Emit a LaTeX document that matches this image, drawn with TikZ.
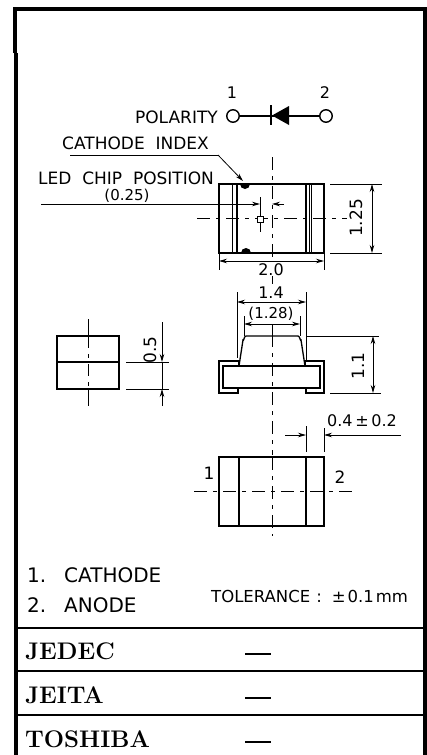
\documentclass[tikz,border=0pt]{standalone}
\usepackage{fontspec}
\setmainfont{Latin Modern Roman}
\setsansfont{DejaVu Sans}
\usetikzlibrary{arrows.meta}
\tikzset{
 obj/.style={line width=1.3pt},
 thin line/.style={line width=0.8pt},
 dim/.style={line width=0.8pt,{Stealth[length=8pt,width=4.5pt]}-{Stealth[length=8pt,width=4.5pt]}},
 tipend/.style={line width=0.8pt,-{Stealth[length=8pt,width=4.5pt]}},
 center line/.style={line width=1pt,dash pattern=on 13pt off 6pt on 4pt off 6pt},
 frame line/.style={line width=2pt},
 lab/.style={font=\sffamily\fontsize{17}{17}\selectfont,inner sep=0pt},
 mid lab/.style={font=\sffamily\fontsize{16}{16}\selectfont,inner sep=0pt},
 small lab/.style={font=\sffamily\fontsize{15}{15}\selectfont,inner sep=0pt},
 tol lab/.style={font=\sffamily\fontsize{16.5}{16}\selectfont,inner sep=0pt},
 big lab/.style={font=\sffamily\fontsize{20}{20}\selectfont,inner sep=0pt},
 std lab/.style={font=\rmfamily\bfseries\fontsize{24}{24}\selectfont,inner sep=0pt,anchor=base west},
 term/.style={circle,draw,line width=1.4pt,minimum size=12.5pt,inner sep=0pt}
}
\begin{document}
\begin{tikzpicture}[x=1pt,y=-1pt]
\useasboundingbox (0,0) rectangle (427,755);
% frame
\draw[line width=4pt] (15,53) -- (15,9) -- (425,9) -- (425,755);
\draw[line width=4pt] (16,53) -- (16,755);
\draw[frame line] (16,628) -- (425,628);
\draw[frame line] (16,670.5) -- (425,670.5);
\draw[frame line] (16,714.5) -- (425,714.5);
% standards
\node[std lab] (jedec) at (25,659) {JEDEC};
\node[std lab] (jeita) at (25,703) {JEITA};
\node[std lab] (toshiba) at (25,747) {TOSHIBA};
\draw[line width=2pt] (245,654) -- (271,654);
\draw[line width=2pt] (245,698) -- (271,698);
\draw[line width=2pt] (245,742) -- (271,742);
% notes
\node[big lab,anchor=base west] (n1) at (27,582) {1.};
\node[big lab,anchor=base west] (n1b) at (64,582) {CATHODE};
\node[big lab,anchor=base west] (n2) at (27,612) {2.};
\node[big lab,anchor=base west] (n2b) at (64,612) {ANODE};
\node[tol lab,anchor=base west] (tol) at (211,602) {TOLERANCE\hspace{6pt}:\hspace{10pt}±\hspace{2pt}0.1\hspace{2pt}mm};
% polarity
\node[lab,anchor=base east] (pol) at (218,123) {POLARITY};
\node[term] (t1) at (233,116) {};
\node[term] (t2) at (326,116) {};
\node[mid lab] (l1) at (232,93) {1};
\node[mid lab] (l2) at (325,93) {2};
\draw[line width=1.1pt] (t1) -- (t2);
\fill (289,106) -- (289,125) -- (272,115.5) -- cycle;
\draw[line width=2.6pt] (271,105) -- (271,125);
% cathode index
\node[lab,anchor=base west] (ci) at (62,149) {CATHODE\ \ INDEX};
\coordinate (ciE) at (218,155);
\coordinate (ciS) at (70,155);
\draw[thin line] (ciS) -- (ciE);
\draw[tipend] (ciE) -- (243,181);
\node[lab,anchor=base west] (chip) at (38,184) {LED\ \ CHIP\ \ POSITION};
\node[small lab,anchor=base] (p25) at (127,200) {(0.25)};
% top view
\draw[obj] (219,184) rectangle (324,253);
\draw[line width=.9pt] (232,184) -- (232,253);
\draw[line width=1.1pt] (237,184) -- (237,253);
\draw[line width=1.3pt] (306,184) -- (306,253);
\draw[line width=.8pt] (309,184) -- (309,253);
\draw[line width=.8pt] (311,184) -- (311,253);
\fill (240,184) arc[start angle=180,end angle=360,radius=5pt] -- cycle;
\fill (241,253) arc[start angle=180,end angle=0,radius=5pt] -- cycle;
\draw[center line] (272,157) -- (272,275);
\draw[center line] (197,218.5) -- (347,218.5);
\draw[line width=.9pt] (260,197) -- (260,232);
\draw[fill=white,line width=1pt] (257,216) rectangle (263,222);
\coordinate (leftF) at (41,204);
\draw[thin line] (leftF) -- (249,204);
\draw[tipend] (249,204) -- (260,204);
\draw[tipend] (284,204) -- (272,204);
% 1.25
\draw[thin line] (330,184) -- (382,184);
\draw[thin line] (330,253) -- (382,253);
\draw[dim] (372,184) -- (372,253);
\node[lab,rotate=90] (d125) at (356,218) {1.25};
% 2.0
\draw[thin line] (219,253) -- (219,270);
\draw[thin line] (324,253) -- (324,270);
\draw[dim] (219,261) -- (324,261);
\node[mid lab,fill=white,inner sep=1pt] (d20) at (271,270) {2.0};
% side view left
\draw[obj] (57,336) rectangle (119,389);
\draw[obj] (57,362) -- (119,362);
\draw[line width=.9pt] (88,319) -- (88,336);
\draw[line width=.9pt] (88,389) -- (88,406);
\draw[line width=.9pt,dash pattern=on 12pt off 6pt on 4pt off 6pt] (88,336) -- (88,389);
\draw[thin line] (126,362) -- (169,362);
\draw[thin line] (126,389) -- (169,389);
\draw[tipend] (162,322) -- (162,362);
\draw[tipend] (162,406) -- (162,389);
\draw[thin line] (162,362) -- (162,389);
\node[lab,rotate=90] (d05) at (150,350) {0.5};
% front view
\draw[obj] (219,361) -- (239,361) -- (239,366) -- (305,366) -- (305,361) -- (324,361) -- (324,393) -- (306,393) -- (306,388) -- (238,388) -- (238,393) -- (219,393) -- cycle;
\draw[obj] (223,366) rectangle (320,388);
\draw[obj] (239,366) -- (243,340) to[out=-70,in=180] (246,336) -- (298,336) to[out=0,in=-110] (301,340) -- (305,366);
\draw[center line] (272,334) -- (272,455);
% 1.4
\draw[thin line] (237,292) -- (237,358);
\draw[thin line] (306,292) -- (306,360);
\draw[dim] (237,302) -- (306,302);
\draw[line width=.9pt] (272,276) -- (272,284);
\node[mid lab] (d14) at (271,293) {1.4};
% 1.28
\draw[thin line] (244,316) -- (244,336);
\draw[thin line] (300,316) -- (300,336);
\draw[dim] (244,324) -- (300,324);
\draw[line width=.9pt] (272,325) -- (272,336);
\node[small lab,fill=white,inner sep=.5pt] (d128) at (271,314) {(1.28)};
% 1.1
\draw[thin line] (306,336) -- (379,336);
\draw[thin line] (330,393) -- (381,393);
\draw[dim] (373,336) -- (373,393);
\node[lab,rotate=90] (d11) at (358,366) {1.1};
% 0.4
\node[mid lab,anchor=base] (d04) at (362,426) {0.4\,±\,0.2};
\draw[thin line] (306,426) -- (306,452);
\draw[thin line] (324,428) -- (324,452);
\draw[tipend] (285,435) -- (306,435);
\draw[tipend] (345,435) -- (324,435);
\draw[thin line] (345,435) -- (401,435);
% bottom view
\draw[obj] (219,457) rectangle (324,526);
\draw[obj] (239,457) -- (239,526);
\draw[obj] (306,457) -- (306,526);
\draw[center line] (194,491) -- (352,491);
\draw[center line] (272,457) -- (272,536);
\node[lab] (b1) at (209,473) {1};
\node[lab] (b2) at (340,477) {2};
\end{tikzpicture}
\end{document}
